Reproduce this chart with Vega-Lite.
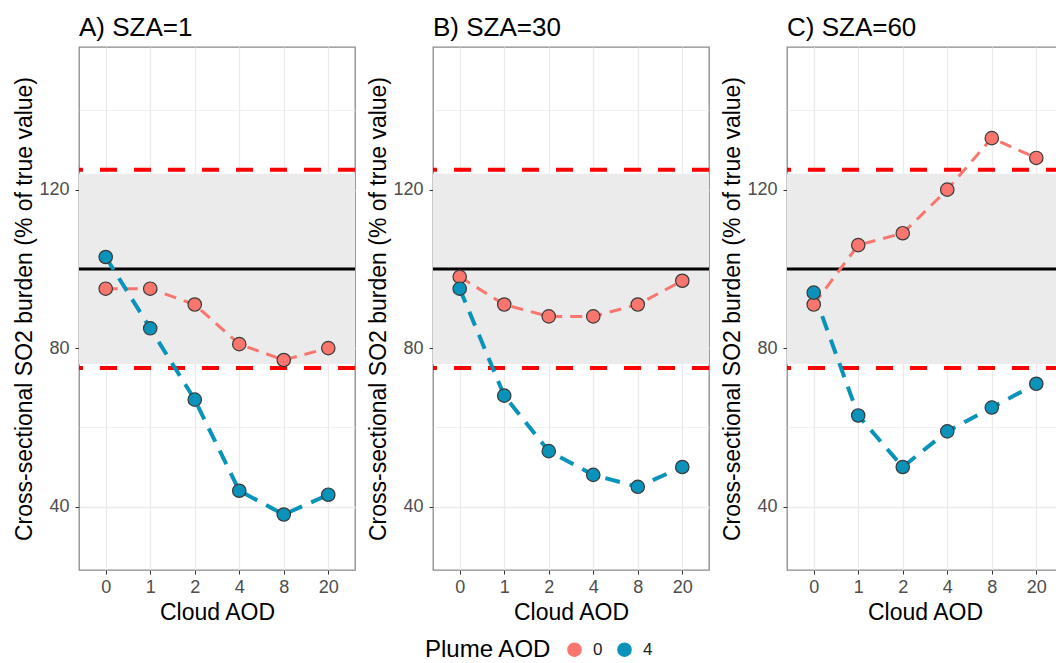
{
  "$schema": "https://vega.github.io/schema/vega-lite/v6.json",
  "padding": {"left": 13, "top": 14, "right": 0, "bottom": 2},
  "background": "white",
  "datasets": {
    "so2": [
      {"sza": 1, "cloud": 0, "plume": "0", "value": 95},
      {"sza": 1, "cloud": 1, "plume": "0", "value": 95},
      {"sza": 1, "cloud": 2, "plume": "0", "value": 91},
      {"sza": 1, "cloud": 4, "plume": "0", "value": 81},
      {"sza": 1, "cloud": 8, "plume": "0", "value": 77},
      {"sza": 1, "cloud": 20, "plume": "0", "value": 80},
      {"sza": 1, "cloud": 0, "plume": "4", "value": 103},
      {"sza": 1, "cloud": 1, "plume": "4", "value": 85},
      {"sza": 1, "cloud": 2, "plume": "4", "value": 67},
      {"sza": 1, "cloud": 4, "plume": "4", "value": 44},
      {"sza": 1, "cloud": 8, "plume": "4", "value": 38},
      {"sza": 1, "cloud": 20, "plume": "4", "value": 43},
      {"sza": 30, "cloud": 0, "plume": "0", "value": 98},
      {"sza": 30, "cloud": 1, "plume": "0", "value": 91},
      {"sza": 30, "cloud": 2, "plume": "0", "value": 88},
      {"sza": 30, "cloud": 4, "plume": "0", "value": 88},
      {"sza": 30, "cloud": 8, "plume": "0", "value": 91},
      {"sza": 30, "cloud": 20, "plume": "0", "value": 97},
      {"sza": 30, "cloud": 0, "plume": "4", "value": 95},
      {"sza": 30, "cloud": 1, "plume": "4", "value": 68},
      {"sza": 30, "cloud": 2, "plume": "4", "value": 54},
      {"sza": 30, "cloud": 4, "plume": "4", "value": 48},
      {"sza": 30, "cloud": 8, "plume": "4", "value": 45},
      {"sza": 30, "cloud": 20, "plume": "4", "value": 50},
      {"sza": 60, "cloud": 0, "plume": "0", "value": 91},
      {"sza": 60, "cloud": 1, "plume": "0", "value": 106},
      {"sza": 60, "cloud": 2, "plume": "0", "value": 109},
      {"sza": 60, "cloud": 4, "plume": "0", "value": 120},
      {"sza": 60, "cloud": 8, "plume": "0", "value": 133},
      {"sza": 60, "cloud": 20, "plume": "0", "value": 128},
      {"sza": 60, "cloud": 0, "plume": "4", "value": 94},
      {"sza": 60, "cloud": 1, "plume": "4", "value": 63},
      {"sza": 60, "cloud": 2, "plume": "4", "value": 50},
      {"sza": 60, "cloud": 4, "plume": "4", "value": 59},
      {"sza": 60, "cloud": 8, "plume": "4", "value": 65},
      {"sza": 60, "cloud": 20, "plume": "4", "value": 71}
    ],
    "band": [{"lo": 76, "hi": 124}],
    "refs": [
      {"kind": "limit", "value": 75},
      {"kind": "limit", "value": 125},
      {"kind": "true", "value": 100}
    ]
  },
  "hconcat": [
    {
      "width": 276, "height": 523,
      "title": {"text": "A) SZA=1"},
      "layer": [
        {"data": {"name": "band"}, "mark": {"type": "rect", "color": "#EBEBEB"},
         "encoding": {"x": {"value": 0}, "x2": {"value": "width"},
           "y": {"field": "lo", "type": "quantitative", "title": "Cross-sectional SO2 burden (% of true value)", "scale": {"domain": [24, 156], "nice": false, "zero": false}},
           "y2": {"field": "hi"}}},
        {"data": {"name": "refs"}, "transform": [{"filter": "datum.kind == 'limit'"}],
         "mark": {"type": "rule", "color": "#FF0000", "strokeWidth": 4, "strokeDash": [17, 17]},
         "encoding": {"y": {"field": "value", "type": "quantitative", "title": "Cross-sectional SO2 burden (% of true value)"}}},
        {"data": {"name": "refs"}, "transform": [{"filter": "datum.kind == 'true'"}],
         "mark": {"type": "rule", "color": "#000000", "strokeWidth": 3},
         "encoding": {"y": {"field": "value", "type": "quantitative", "title": "Cross-sectional SO2 burden (% of true value)"}}},
        {"data": {"name": "so2"}, "transform": [{"filter": "datum.sza == 1 && datum.plume == '0'"}],
         "mark": {"type": "line", "strokeWidth": 3, "strokeDash": [12, 8]},
         "encoding": {"x": {"field": "cloud", "type": "ordinal"}, "y": {"field": "value", "type": "quantitative", "title": "Cross-sectional SO2 burden (% of true value)"},
           "color": {"field": "plume", "type": "nominal", "title": "Plume AOD"}}},
        {"data": {"name": "so2"}, "transform": [{"filter": "datum.sza == 1 && datum.plume == '4'"}],
         "mark": {"type": "line", "strokeWidth": 4, "strokeDash": [15, 10]},
         "encoding": {"x": {"field": "cloud", "type": "ordinal"}, "y": {"field": "value", "type": "quantitative", "title": "Cross-sectional SO2 burden (% of true value)"},
           "color": {"field": "plume", "type": "nominal", "title": "Plume AOD"}}},
        {"data": {"name": "so2"}, "transform": [{"filter": "datum.sza == 1"}],
         "mark": {"type": "point", "filled": true, "size": 180, "opacity": 1, "stroke": "#3a3a3a", "strokeWidth": 1.2},
         "encoding": {
           "x": {"field": "cloud", "type": "ordinal", "title": "Cloud AOD", "scale": {"type": "point", "padding": 0.6}},
           "y": {"field": "value", "type": "quantitative", "title": "Cross-sectional SO2 burden (% of true value)",
             "axis": {"values": [40, 60, 80, 100, 120, 140], "labelExpr": "datum.value % 40 == 0 ? datum.label : ''",
               "gridWidth": {"condition": {"test": "datum.value % 40 == 0", "value": 1.3}, "value": 0.7},
               "tickOpacity": {"condition": {"test": "datum.value % 40 == 0", "value": 1}, "value": 0}}},
           "color": {"field": "plume", "type": "nominal", "title": "Plume AOD"}}}
      ]
    },
    {
      "width": 276, "height": 523,
      "title": {"text": "B) SZA=30"},
      "layer": [
        {"data": {"name": "band"}, "mark": {"type": "rect", "color": "#EBEBEB"},
         "encoding": {"x": {"value": 0}, "x2": {"value": "width"},
           "y": {"field": "lo", "type": "quantitative", "title": "Cross-sectional SO2 burden (% of true value)", "scale": {"domain": [24, 156], "nice": false, "zero": false}},
           "y2": {"field": "hi"}}},
        {"data": {"name": "refs"}, "transform": [{"filter": "datum.kind == 'limit'"}],
         "mark": {"type": "rule", "color": "#FF0000", "strokeWidth": 4, "strokeDash": [17, 17]},
         "encoding": {"y": {"field": "value", "type": "quantitative", "title": "Cross-sectional SO2 burden (% of true value)"}}},
        {"data": {"name": "refs"}, "transform": [{"filter": "datum.kind == 'true'"}],
         "mark": {"type": "rule", "color": "#000000", "strokeWidth": 3},
         "encoding": {"y": {"field": "value", "type": "quantitative", "title": "Cross-sectional SO2 burden (% of true value)"}}},
        {"data": {"name": "so2"}, "transform": [{"filter": "datum.sza == 30 && datum.plume == '0'"}],
         "mark": {"type": "line", "strokeWidth": 3, "strokeDash": [12, 8]},
         "encoding": {"x": {"field": "cloud", "type": "ordinal"}, "y": {"field": "value", "type": "quantitative", "title": "Cross-sectional SO2 burden (% of true value)"},
           "color": {"field": "plume", "type": "nominal", "title": "Plume AOD"}}},
        {"data": {"name": "so2"}, "transform": [{"filter": "datum.sza == 30 && datum.plume == '4'"}],
         "mark": {"type": "line", "strokeWidth": 4, "strokeDash": [15, 10]},
         "encoding": {"x": {"field": "cloud", "type": "ordinal"}, "y": {"field": "value", "type": "quantitative", "title": "Cross-sectional SO2 burden (% of true value)"},
           "color": {"field": "plume", "type": "nominal", "title": "Plume AOD"}}},
        {"data": {"name": "so2"}, "transform": [{"filter": "datum.sza == 30"}],
         "mark": {"type": "point", "filled": true, "size": 180, "opacity": 1, "stroke": "#3a3a3a", "strokeWidth": 1.2},
         "encoding": {
           "x": {"field": "cloud", "type": "ordinal", "title": "Cloud AOD", "scale": {"type": "point", "padding": 0.6}},
           "y": {"field": "value", "type": "quantitative", "title": "Cross-sectional SO2 burden (% of true value)",
             "axis": {"values": [40, 60, 80, 100, 120, 140], "labelExpr": "datum.value % 40 == 0 ? datum.label : ''",
               "gridWidth": {"condition": {"test": "datum.value % 40 == 0", "value": 1.3}, "value": 0.7},
               "tickOpacity": {"condition": {"test": "datum.value % 40 == 0", "value": 1}, "value": 0}}},
           "color": {"field": "plume", "type": "nominal", "title": "Plume AOD"}}}
      ]
    },
    {
      "width": 276, "height": 523,
      "title": {"text": "C) SZA=60"},
      "layer": [
        {"data": {"name": "band"}, "mark": {"type": "rect", "color": "#EBEBEB"},
         "encoding": {"x": {"value": 0}, "x2": {"value": "width"},
           "y": {"field": "lo", "type": "quantitative", "title": "Cross-sectional SO2 burden (% of true value)", "scale": {"domain": [24, 156], "nice": false, "zero": false}},
           "y2": {"field": "hi"}}},
        {"data": {"name": "refs"}, "transform": [{"filter": "datum.kind == 'limit'"}],
         "mark": {"type": "rule", "color": "#FF0000", "strokeWidth": 4, "strokeDash": [17, 17]},
         "encoding": {"y": {"field": "value", "type": "quantitative", "title": "Cross-sectional SO2 burden (% of true value)"}}},
        {"data": {"name": "refs"}, "transform": [{"filter": "datum.kind == 'true'"}],
         "mark": {"type": "rule", "color": "#000000", "strokeWidth": 3},
         "encoding": {"y": {"field": "value", "type": "quantitative", "title": "Cross-sectional SO2 burden (% of true value)"}}},
        {"data": {"name": "so2"}, "transform": [{"filter": "datum.sza == 60 && datum.plume == '0'"}],
         "mark": {"type": "line", "strokeWidth": 3, "strokeDash": [12, 8]},
         "encoding": {"x": {"field": "cloud", "type": "ordinal"}, "y": {"field": "value", "type": "quantitative", "title": "Cross-sectional SO2 burden (% of true value)"},
           "color": {"field": "plume", "type": "nominal", "title": "Plume AOD"}}},
        {"data": {"name": "so2"}, "transform": [{"filter": "datum.sza == 60 && datum.plume == '4'"}],
         "mark": {"type": "line", "strokeWidth": 4, "strokeDash": [15, 10]},
         "encoding": {"x": {"field": "cloud", "type": "ordinal"}, "y": {"field": "value", "type": "quantitative", "title": "Cross-sectional SO2 burden (% of true value)"},
           "color": {"field": "plume", "type": "nominal", "title": "Plume AOD"}}},
        {"data": {"name": "so2"}, "transform": [{"filter": "datum.sza == 60"}],
         "mark": {"type": "point", "filled": true, "size": 180, "opacity": 1, "stroke": "#3a3a3a", "strokeWidth": 1.2},
         "encoding": {
           "x": {"field": "cloud", "type": "ordinal", "title": "Cloud AOD", "scale": {"type": "point", "padding": 0.6}},
           "y": {"field": "value", "type": "quantitative", "title": "Cross-sectional SO2 burden (% of true value)",
             "axis": {"values": [40, 60, 80, 100, 120, 140], "labelExpr": "datum.value % 40 == 0 ? datum.label : ''",
               "gridWidth": {"condition": {"test": "datum.value % 40 == 0", "value": 1.3}, "value": 0.7},
               "tickOpacity": {"condition": {"test": "datum.value % 40 == 0", "value": 1}, "value": 0}}},
           "color": {"field": "plume", "type": "nominal", "title": "Plume AOD"}}}
      ]
    }
  ],
  "spacing": 9,
  "resolve": {"scale": {"color": "shared"}},
  "config": {
    "font": "Liberation Sans",
    "view": {"stroke": "#8a8a8a", "strokeWidth": 1.3},
    "title": {"anchor": "start", "frame": "group", "fontSize": 26, "fontWeight": "normal", "color": "#000000", "offset": 6, "font": "Liberation Sans"},
    "axis": {"domain": false, "gridColor": "#EBEBEB", "tickColor": "#333333", "tickSize": 4, "labelColor": "#4D4D4D", "labelFontSize": 18, "labelPadding": 4, "titleFontSize": 23, "titleFontWeight": "normal", "titleColor": "#000000", "labelFont": "Liberation Sans", "titleFont": "Liberation Sans"},
    "axisX": {"labelAngle": 0, "grid": true, "gridWidth": 1.3, "titlePadding": 5},
    "axisY": {"titlePadding": 2, "labelPadding": 6},
    "range": {"category": ["#F8766D", "#0A93BA"]},
    "legend": {"orient": "bottom", "direction": "horizontal", "titleOrient": "left", "titleFontSize": 24, "titleFontWeight": "normal", "titleColor": "#000000", "labelFontSize": 17, "labelColor": "#222222", "labelOffset": 10, "symbolSize": 180, "symbolStrokeColor": "#3a3a3a", "symbolStrokeWidth": 1.2, "symbolType": "circle", "symbolOpacity": 1, "columnPadding": 12, "titlePadding": 14, "offset": 16, "layout": {"bottom": {"anchor": "middle"}}}
  }
}
